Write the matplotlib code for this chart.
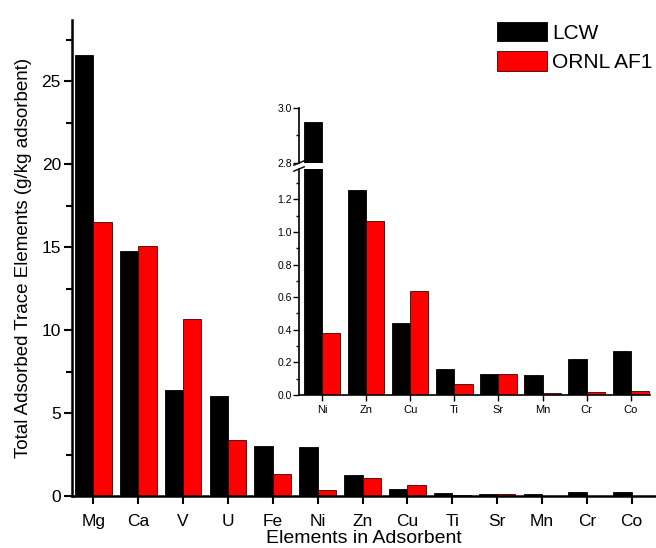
import numpy as np
import matplotlib.pyplot as plt

plt.rcParams['font.family'] = ['Liberation Sans', 'DejaVu Sans']

# main chart data (g/kg adsorbent)
elements = ["Mg", "Ca", "V", "U", "Fe", "Ni", "Zn", "Cu", "Ti", "Sr", "Mn", "Cr", "Co"]
lcw = [26.6, 14.8, 6.4, 6.0, 3.0, 2.95, 1.26, 0.44, 0.16, 0.13, 0.12, 0.22, 0.27]
ornl = [16.5, 15.1, 10.7, 3.4, 1.3, 0.38, 1.07, 0.64, 0.07, 0.13, 0.015, 0.02, 0.025]

# inset data
inset_elements = ["Ni", "Zn", "Cu", "Ti", "Sr", "Mn", "Cr", "Co"]
inset_lcw = [2.95, 1.26, 0.44, 0.16, 0.13, 0.12, 0.22, 0.27]
inset_ornl = [0.38, 1.07, 0.64, 0.07, 0.13, 0.015, 0.02, 0.025]

W = 0.41

fig = plt.figure(figsize=(6.56, 5.48), dpi=100)

# main axes
ax = fig.add_axes([0.1098, 0.0949, 0.8887, 0.8686])
x = np.arange(len(elements))
ax.bar(x - W / 2, lcw, W, color="black", edgecolor="black", linewidth=0.6, label="LCW")
ax.bar(x + W / 2, ornl, W, color="#ff0000", edgecolor="#400000", linewidth=0.6, label="ORNL AF1")
ax.set_xlim(-0.475, 12.52)
ax.set_ylim(0, 28.7)
ax.set_xticks(x)
ax.set_xticklabels(elements, fontsize=12.5)
ax.set_yticks([0, 5, 10, 15, 20, 25])
ax.set_yticks(np.arange(2.5, 28.5, 5), minor=True)
ax.tick_params(axis="y", which="major", length=6, width=1.5, labelsize=12.5, pad=2)
ax.tick_params(axis="y", which="minor", length=4, width=1.5)
ax.tick_params(axis="x", which="major", length=6, width=1.5, pad=7)
for s in ["top", "right"]:
    ax.spines[s].set_visible(False)
for s in ["left", "bottom"]:
    ax.spines[s].set_linewidth(1.8)
ax.set_xlabel("Elements in Adsorbent", fontsize=14, labelpad=1)
ax.set_ylabel("Total Adsorbed Trace Elements (g/kg adsorbent)", fontsize=13.5, labelpad=7)
ax.legend(loc="upper right", bbox_to_anchor=(1.01, 1.013), frameon=False, fontsize=15,
          handlelength=2.4, handleheight=1.05, handletextpad=0.25, labelspacing=0.4,
          borderaxespad=0.0)

# inset, broken y axis
xi = np.arange(len(inset_elements))
ax_lo = fig.add_axes([0.4558, 0.2792, 0.535, 0.4124])
ax_hi = fig.add_axes([0.4558, 0.7026, 0.535, 0.1004])
for a in (ax_lo, ax_hi):
    a.bar(xi - W / 2, inset_lcw, W, color="black", edgecolor="black", linewidth=0.6)
    a.bar(xi + W / 2, inset_ornl, W, color="#ff0000", edgecolor="#400000", linewidth=0.6)
    a.set_xlim(-0.53, 7.44)
    for s in ["top", "right"]:
        a.spines[s].set_visible(False)
    a.spines["left"].set_linewidth(1.2)
    a.tick_params(axis="y", which="major", length=4, width=1.0, labelsize=7.5, pad=1)
    a.tick_params(axis="y", which="minor", length=2.5, width=1.0)

ax_lo.set_ylim(0, 1.386)
ax_lo.set_yticks([0.0, 0.2, 0.4, 0.6, 0.8, 1.0, 1.2])
ax_lo.set_yticks(np.arange(0.1, 1.36, 0.2), minor=True)
ax_lo.set_yticklabels(["0.0", "0.2", "0.4", "0.6", "0.8", "1.0", "1.2"])
ax_lo.set_xticks(xi)
ax_lo.set_xticklabels(inset_elements, fontsize=8)
ax_lo.tick_params(axis="x", length=4, width=1.0, pad=3)
ax_lo.spines["bottom"].set_linewidth(1.2)

ax_hi.set_ylim(2.8, 3.0)
ax_hi.set_yticks([2.8, 3.0])
ax_hi.set_yticks([2.9], minor=True)
ax_hi.set_yticklabels(["2.8", "3.0"])
ax_hi.set_xticks([])
ax_hi.spines["bottom"].set_visible(False)

# break marks on the inset y axis
for yb in [0.7026, 0.7026 - 0.011]:
    fig.add_artist(plt.Line2D([0.4558 - 0.008, 0.4558 + 0.008], [yb - 0.004, yb + 0.004],
                              color="black", linewidth=1.0))

plt.savefig("out.png", dpi=100)
